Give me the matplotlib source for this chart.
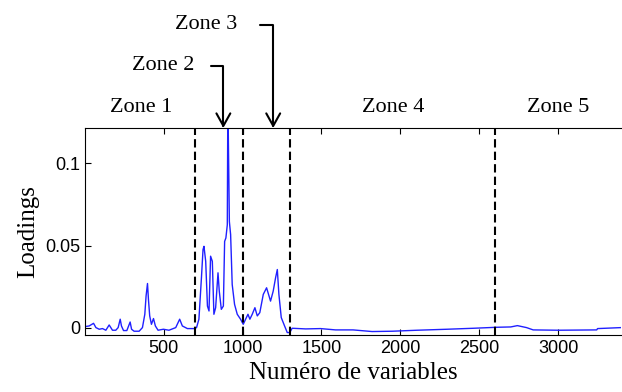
import matplotlib
matplotlib.use("Agg")
import matplotlib.pyplot as plt

# loadings (variable number, loading)
var_num = [1, 27, 55, 70, 91, 112, 133, 154, 175, 196, 211, 224, 232, 245, 266,
           287, 296, 312, 344, 365, 380, 388, 397, 403, 411, 422, 435, 447, 464,
           498, 533, 576, 601, 618, 650, 692, 708,
           723, 739, 749, 755, 766, 777, 787, 797, 808, 818, 829, 844, 852, 865,
           878, 886, 894, 903, 906, 909, 916, 924, 934, 949, 966, 987, 1004,
           1019, 1034, 1046, 1061, 1078, 1093, 1109, 1131, 1152, 1177, 1194,
           1209, 1220, 1230, 1245, 1266, 1283, 1299, 1314,
           1400, 1494, 1589, 1700, 1821, 1950, 2106, 2296, 2464, 2612, 2700,
           2742, 2800, 2842, 3000, 3245, 3250, 3400]
loadings = [0.0008, 0.0012, 0.0028, 0.0002, -0.0008, -0.0004, -0.0014, 0.0018,
            -0.0014, -0.0014, 0.0002, 0.0053, 0.0012, -0.0016, -0.0016, 0.0036,
            -0.0008, -0.002, -0.002, 0.0002, 0.0083, 0.0194, 0.027, 0.0174,
            0.0073, 0.0022, 0.0057, 0.0012, -0.0014, -0.0008, -0.0014, 0.0002,
            0.0053, 0.0012, -0.0004, -0.0004, 0.0002,
            0.0053, 0.0305, 0.0476, 0.0496, 0.0405, 0.0133, 0.0103, 0.0436,
            0.0405, 0.0083, 0.0123, 0.0335, 0.0224, 0.0113, 0.0133, 0.0526,
            0.0547, 0.0627, 0.13, 0.12, 0.0647, 0.0567, 0.0264, 0.0143, 0.0083,
            0.0053, 0.0022,
            0.0053, 0.0083, 0.0053, 0.0083, 0.0123, 0.0073, 0.0093, 0.0204,
            0.0244, 0.0163, 0.0224, 0.0305, 0.0355, 0.0204, 0.0063, 0.0012,
            -0.0028, -0.0028, -0.0002,
            -0.0006, -0.0004, -0.0012, -0.0012, -0.0022, -0.002, -0.0014,
            -0.0008, -0.0002, 0.0004, 0.0006, 0.0014, 0.0002, -0.0012, -0.0014,
            -0.0012, -0.0004, 0.0002]

zone_bounds = [700, 1000, 1300, 2600]
zone_names = ["Zone 1", "Zone 4", "Zone 5"]
zone_label_x = [354, 1956, 3000]
arrow_names = ["Zone 2", "Zone 3"]
arrow_tips = [878, 1194]
arrow_starts = [797, 1112]
arrow_label_x = [494, 766]
arrow_y = [1.30, 1.50]

serif = "Liberation Serif"
plt.rcParams["font.family"] = "Liberation Sans"

fig = plt.figure(figsize=(6.22, 3.92), dpi=100)
ax = fig.add_axes([0.1367, 0.1454, 0.862, 0.528])

ax.plot(var_num, loadings, color="#2020ff", lw=1.0)
for b in zone_bounds:
    ax.axvline(b, color="black", lw=1.5, linestyle=(0, (4, 2)))

ax.set_xlim(1, 3400)
ax.set_ylim(-0.0043, 0.1215)
ax.set_xticks([500, 1000, 1500, 2000, 2500, 3000])
ax.set_yticks([0, 0.05, 0.1])
ax.set_yticklabels(["0", "0.05", "0.1"])
ax.tick_params(direction="in", top=True, length=4, labelsize=13)
ax.spines["right"].set_visible(False)

ax.set_xlabel("Numéro de variables", family=serif, fontsize=18, labelpad=4)
ax.set_ylabel("Loadings", family=serif, fontsize=18, labelpad=4)

for name, x in zip(zone_names, zone_label_x):
    ax.text(x, 1.10, name, transform=ax.get_xaxis_transform(), family=serif,
            fontsize=16, ha="center", va="center")

for name, tip, start, lx, y in zip(arrow_names, arrow_tips, arrow_starts,
                                   arrow_label_x, arrow_y):
    ax.text(lx, y, name, transform=ax.get_xaxis_transform(), family=serif,
            fontsize=16, ha="center", va="center")
    ax.annotate("", xy=(tip, 1.0), xycoords=("data", "axes fraction"),
                xytext=(start, y), textcoords=("data", "axes fraction"),
                annotation_clip=False,
                arrowprops=dict(arrowstyle="->,head_length=0.45,head_width=0.25",
                                connectionstyle="angle,angleA=0,angleB=90,rad=0",
                                mutation_scale=20, lw=1.5, color="black",
                                shrinkA=0, shrinkB=0))

fig.savefig("out.png", dpi=100)
